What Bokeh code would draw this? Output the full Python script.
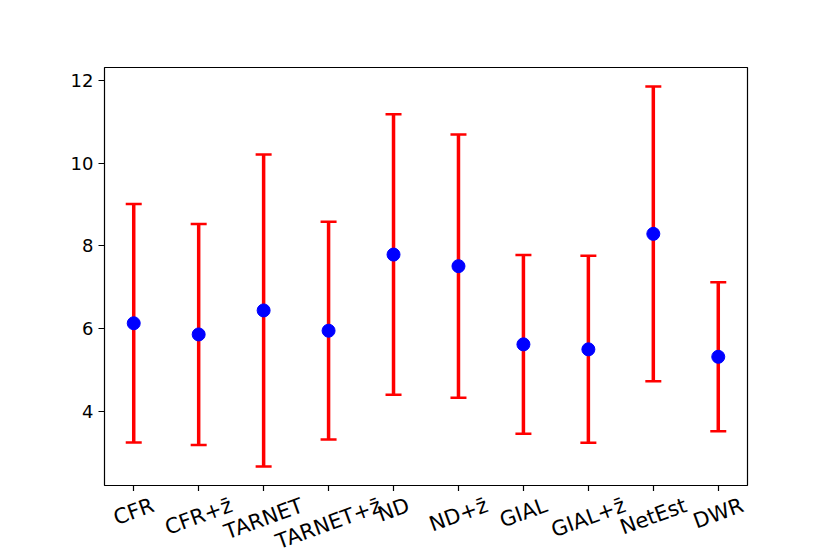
import math
from bokeh.plotting import figure
from bokeh.layouts import column
from bokeh.models import Range1d, FixedTicker, Whisker, TeeHead, ColumnDataSource
from bokeh.core.properties import value
from bokeh.embed import file_html
from bokeh.resources import INLINE

categories = ["CFR", "CFR+z\u0304", "TARNET", "TARNET+z\u0304", "ND", "ND+z\u0304",
              "GIAL", "GIAL+z\u0304", "NetEst", "DWR"]
means = [6.13, 5.86, 6.44, 5.95, 7.79, 7.51, 5.62, 5.50, 8.29, 5.32]
stds = [2.88, 2.67, 3.77, 2.63, 3.39, 3.18, 2.16, 2.26, 3.56, 1.80]
y_ticks = [4, 6, 8, 10, 12]

xs = list(range(len(categories)))
upper = [m + s for m, s in zip(means, stds)]
lower = [m - s for m, s in zip(means, stds)]
src = ColumnDataSource(dict(x=xs, mean=means, upper=upper, lower=lower))

W = 822
FRAME_L, FRAME_R, FRAME_T, FRAME_B = 104, 747, 67, 485
H1 = 491
H2 = 554 - H1
xr = Range1d(-0.45, 9.45)

p = figure(width=W, height=H1, output_backend="svg", toolbar_location=None,
           x_range=xr, y_range=Range1d(2.21, 12.31),
           min_border_left=FRAME_L, min_border_right=W - FRAME_R, min_border_top=FRAME_T,
           min_border_bottom=H1 - FRAME_B)
p.xgrid.visible = False
p.ygrid.visible = False
p.outline_line_color = "black"
p.outline_line_width = 1.2
p.background_fill_color = "white"
p.border_fill_color = "white"

w = Whisker(source=src, base="x", upper="upper", lower="lower", dimension="height",
            line_color="red", line_width=3.5,
            upper_head=TeeHead(size=16, line_color="red", line_width=2.5),
            lower_head=TeeHead(size=16, line_color="red", line_width=2.5))
p.add_layout(w)
p.scatter("x", "mean", source=src, size=13, color="blue", line_color="blue")

for ax in (p.xaxis[0], p.yaxis[0]):
    ax.axis_line_color = None
    ax.major_tick_line_color = "black"
    ax.major_tick_line_width = 1.2
    ax.major_tick_out = 6
    ax.major_tick_in = 0
    ax.minor_tick_line_color = None
    ax.major_label_text_font = "DejaVu Sans"
    ax.major_label_text_color = "black"

p.xaxis[0].ticker = FixedTicker(ticks=xs)
p.xaxis[0].major_label_overrides = {i: "" for i in xs}
p.xaxis[0].major_label_text_font_size = "0px"
p.xaxis[0].major_label_standoff = 0
p.yaxis[0].ticker = FixedTicker(ticks=y_ticks)
p.yaxis[0].major_label_text_font_size = "18px"
p.yaxis[0].major_label_standoff = 5

# strip below the axes holding the rotated category labels (matplotlib-style centring)
p2 = figure(width=W, height=H2, output_backend="svg", toolbar_location=None,
            x_range=xr, y_range=Range1d(0, H2), x_axis_location=None, y_axis_location=None,
            min_border_left=FRAME_L, min_border_right=W - FRAME_R, min_border_top=0,
            min_border_bottom=0)
p2.xgrid.visible = False
p2.ygrid.visible = False
p2.outline_line_color = None
p2.background_fill_color = "white"
p2.border_fill_color = "white"

fs = 21
ang = math.radians(20)
cw = {"C": .698, "F": .575, "R": .695, "+": .838, "z": .521, "T": .611, "A": .684,
      "N": .748, "E": .632, "D": .770, "G": .775, "I": .295, "L": .557, "e": .615,
      "t": .392, "s": .521, "W": .989, "\u0304": 0.0}
ly = []
for c in categories:
    tw = sum(cw.get(ch, 0.6) for ch in c) * fs
    th = 1.164 * fs
    bh = tw * math.sin(ang) + th * math.cos(ang)
    centre = FRAME_B + 6 + 1.5 + bh / 2
    ly.append(H2 - (centre - H1))
lsrc = ColumnDataSource(dict(x=xs, y=ly, t=categories))
p2.text("x", "y", text="t", source=lsrc, angle=ang, text_align="center",
        text_baseline="middle", text_font=value("DejaVu Sans"),
        text_font_size=value(f"{fs}px"), text_color="black")

layout = column(p, p2, spacing=0)
open("out.html", "w").write(file_html(layout, INLINE))
